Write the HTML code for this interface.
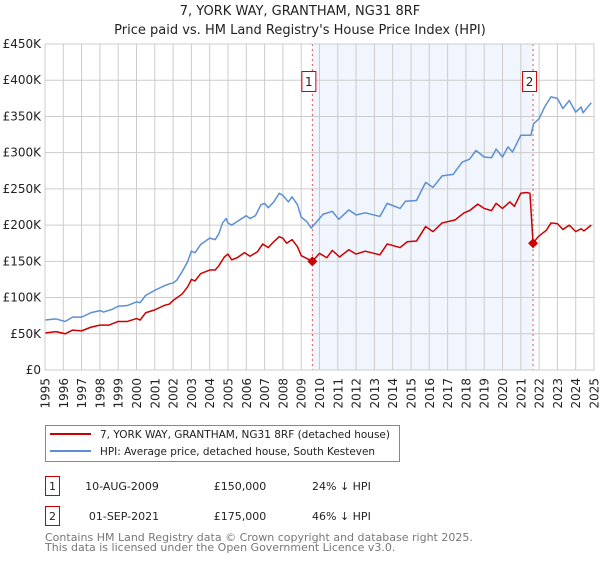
<!DOCTYPE html>
<html><head><meta charset="utf-8"><style>
body{margin:0;background:#fff;font-family:"DejaVu Sans","Liberation Sans",sans-serif;}
svg text{font-family:"DejaVu Sans","Liberation Sans",sans-serif;}
</style></head><body>
<svg id="chart" width="600" height="560" xmlns="http://www.w3.org/2000/svg">
<text x="300" y="15" text-anchor="middle" font-size="13" fill="#222">7, YORK WAY, GRANTHAM, NG31 8RF</text>
<text x="300" y="34" text-anchor="middle" font-size="13" fill="#222">Price paid vs. HM Land Registry's House Price Index (HPI)</text>
<g id="plot"></g>
<g>
<rect x="45.5" y="425.5" width="354" height="36" fill="#fff" stroke="#888"/>
<line x1="50" y1="434" x2="91" y2="434" stroke="#cc0000" stroke-width="2"/>
<text x="100" y="438" font-size="11" textLength="290" lengthAdjust="spacingAndGlyphs" fill="#222">7, YORK WAY, GRANTHAM, NG31 8RF (detached house)</text>
<line x1="50" y1="451" x2="91" y2="451" stroke="#5b8fd6" stroke-width="2"/>
<text x="100" y="455" font-size="11" textLength="275" lengthAdjust="spacingAndGlyphs" fill="#222">HPI: Average price, detached house, South Kesteven</text>
</g>
<g font-size="11" fill="#222">
<rect x="45.5" y="476.5" width="14" height="19" fill="#fff" stroke="#cc0000"/>
<text x="52.5" y="490" text-anchor="middle">1</text>
<text x="122" y="490" text-anchor="middle">10-AUG-2009</text>
<text x="240" y="490" text-anchor="middle">£150,000</text>
<text x="312" y="490">24% ↓ HPI</text>
<rect x="45.5" y="506.5" width="14" height="19" fill="#fff" stroke="#cc0000"/>
<text x="52.5" y="520" text-anchor="middle">2</text>
<text x="124" y="520" text-anchor="middle">01-SEP-2021</text>
<text x="240" y="520" text-anchor="middle">£175,000</text>
<text x="312" y="520">46% ↓ HPI</text>
</g>
<text x="45" y="541" font-size="11" fill="#777">Contains HM Land Registry data © Crown copyright and database right 2025.</text>
<text x="45" y="551" font-size="11" fill="#777">This data is licensed under the Open Government Licence v3.0.</text>
</svg>
<script>
const hpiYears=[1995,1995.6,1996.1,1996.5,1997,1997.5,1998,1998.2,1998.7,1999,1999.5,2000,2000.2,2000.5,2001,2001.5,2001.8,2002,2002.2,2002.5,2002.8,2003,2003.2,2003.5,2004,2004.3,2004.5,2004.7,2004.9,2005,2005.2,2005.5,2006,2006.2,2006.5,2006.8,2007,2007.2,2007.5,2007.8,2008,2008.3,2008.5,2008.8,2009,2009.3,2009.55,2010.2,2010.7,2011.05,2011.6,2012,2012.5,2013.3,2013.7,2014.4,2014.7,2015.3,2015.8,2016.2,2016.7,2017.3,2017.8,2018.2,2018.55,2019,2019.4,2019.65,2020,2020.3,2020.55,2021,2021.55,2021.7,2022,2022.3,2022.65,2023,2023.3,2023.65,2024,2024.3,2024.4,2024.85];
const hpiValues=[69,70.5,67,73,73,79,82,80,84,88,89,94,93,103,110,116,119,120,124,136,150,164,162,173,182,180,188,203,209,203,200,205,213,209,213,228,230,224,232,244,241,232,239,228,211,205,196,215,219,208,221,214,217,212,230,223,233,234,259,252,268,270,287,291,303,294,293,305,294,308,301,324,324,340,347,363,377,375,361,372,356,363,355,369];
const ppYears=[1995,1995.6,1996.1,1996.5,1997,1997.5,1998,1998.5,1999,1999.5,2000,2000.2,2000.5,2001,2001.5,2001.8,2002,2002.5,2002.8,2003,2003.2,2003.5,2004,2004.3,2004.5,2004.8,2005,2005.2,2005.5,2005.9,2006.2,2006.6,2006.9,2007.2,2007.5,2007.8,2008,2008.2,2008.5,2008.8,2009,2009.3,2009.61,2010,2010.4,2010.7,2011.1,2011.6,2012,2012.5,2013.3,2013.7,2014.4,2014.8,2015.3,2015.8,2016.2,2016.7,2017.4,2017.9,2018.2,2018.65,2019,2019.4,2019.65,2020,2020.4,2020.65,2021,2021.3,2021.5,2021.67,2021.95,2022.4,2022.65,2023,2023.3,2023.65,2024,2024.3,2024.45,2024.85];
const ppValues=[51,53,50,55,54,59,62,62,67,67,71,69,79,83,89,91,96,105,115,125,123,133,138,138,144,156,160,152,155,162,157,163,174,169,177,184,182,175,180,170,158,154,150,161,155,165,156,166,160,164,159,174,169,177,178,198,191,203,207,217,220,229,223,220,230,223,232,226,244,245,244,175,184,193,203,202,194,200,191,195,192,200];
const saleYears=[2009.61,2021.67];
const saleValues=[150,175];
const saleLabels=["1","2"];
const yTicks=[0,50,100,150,200,250,300,350,400,450];
const yTickLabels=["£0","£50K","£100K","£150K","£200K","£250K","£300K","£350K","£400K","£450K"];
const xTicks=[1995,1996,1997,1998,1999,2000,2001,2002,2003,2004,2005,2006,2007,2008,2009,2010,2011,2012,2013,2014,2015,2016,2017,2018,2019,2020,2021,2022,2023,2024,2025];

const L=45,R=594,T=44,B=370;
const xs=y=>L+(y-1995)/30*(R-L);
const ys=v=>B-v/450*(B-T);
const NS="http://www.w3.org/2000/svg";
const plot=document.getElementById('plot');
function mk(tag,attrs,parent){const e=document.createElementNS(NS,tag);for(const k in attrs)e.setAttribute(k,attrs[k]);(parent||plot).appendChild(e);return e;}

const shade=mk('rect',{x:xs(saleYears[0]),y:T,width:xs(saleYears[1])-xs(saleYears[0]),height:B-T,fill:'#f1f5fd'});



yTicks.forEach((t,i)=>{
  const g=mk('line',{x1:L,x2:R,y1:ys(t),y2:ys(t),stroke:'#cccccc','stroke-width':1});
  
  
  const tx=mk('text',{x:L-4,y:ys(t)+4,'text-anchor':'end','font-size':12,fill:'#222'});
  tx.textContent=yTickLabels[i];
  
  
});
xTicks.forEach(t=>{
  const g=mk('line',{x1:xs(t),x2:xs(t),y1:T,y2:B,stroke:t===2025?'#999':'#cccccc','stroke-width':1});
  
  
  const tx=mk('text',{x:0,y:0,transform:`translate(${xs(t)+4.5},378) rotate(-90)`,'text-anchor':'end','font-size':12,fill:'#222'});
  tx.textContent=String(t);
  
  
});

saleYears.forEach((y,i)=>{
  const l=mk('line',{x1:xs(y),x2:xs(y),y1:T,y2:B,stroke:'#e05555','stroke-width':1,'stroke-dasharray':'2,3'});
  
  
});

const hp=mk('polyline',{points:hpiYears.map((y,i)=>xs(y)+','+ys(hpiValues[i])).join(' '),fill:'none',stroke:'#5b8fd6','stroke-width':1.5,'stroke-linejoin':'round'});


const pp=mk('polyline',{points:ppYears.map((y,i)=>xs(y)+','+ys(ppValues[i])).join(' '),fill:'none',stroke:'#cc0000','stroke-width':1.5,'stroke-linejoin':'round'});



saleYears.forEach((y,i)=>{
  const cx=xs(y),cy=ys(saleValues[i]);
  const d=mk('path',{d:`M${cx},${cy-5}L${cx+5},${cy}L${cx},${cy+5}L${cx-5},${cy}Z`,fill:'#cc0000'});
  
  
  const bx=mk('rect',{x:cx-10.5,y:71.5,width:14,height:20,fill:'#fff',stroke:'#cc0000'});
  
  
  const t=mk('text',{x:cx-3.5,y:86,'text-anchor':'middle','font-size':12,fill:'#222'});
  t.textContent=saleLabels[i];
  
  
});
const border=mk('rect',{x:L,y:T,width:R-L,height:B-T,fill:'none',stroke:'#cccccc'});


</script>
</body></html>
